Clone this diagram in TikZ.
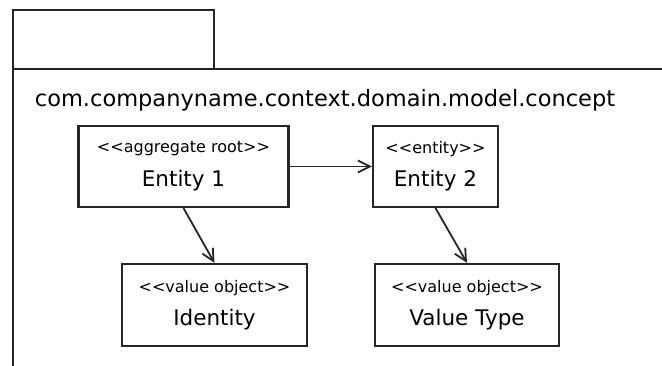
\documentclass[tikz,border=0pt]{standalone}
\usepackage{fontspec}
\setmainfont{DejaVu Sans}
\usetikzlibrary{arrows.meta}
\begin{document}
\begin{tikzpicture}[x=1pt,y=-1pt,
  pkgline/.style={line width=2.2pt, black!85},
  classbox/.style={draw=black!85, line width=2.2pt, rectangle, inner sep=0pt, align=center},
  stereo/.style={font=\fontsize{16}{16}\selectfont},
  cname/.style={font=\fontsize{21.5}{21.5}\selectfont},
  assoc/.style={line width=1.8pt, black!85, -{Straight Barb[length=12pt,width=12pt,line width=1.8pt]}}]
\useasboundingbox (0,0) rectangle (662,366);
\fill[white] (0,0) rectangle (662,366);
% package
\draw[pkgline] (13,10) rectangle (214,69);
\draw[pkgline] (13,366) -- (13,69) -- (662,69);
\node[font=\fontsize{22.5}{22.5}\selectfont] (pkg) at (325,100) {com.companyname.context.domain.model.concept};
% classes
\node[classbox, minimum width=210pt, minimum height=81pt] (e1) at (183.5,166.5) {};
\node[stereo] (e1s) at (183.5,149) {<{}<aggregate root>{}>};
\node[cname] (e1n) at (183.5,181) {Entity 1};
\node[classbox, minimum width=125pt, minimum height=81pt] (e2) at (435.5,166.5) {};
\node[stereo] (e2s) at (435.5,149) {<{}<entity>{}>};
\node[cname] (e2n) at (435.5,181) {Entity 2};
\node[classbox, minimum width=185pt, minimum height=82pt] (id) at (214.5,305) {};
\node[stereo] (ids) at (214.5,288) {<{}<value object>{}>};
\node[cname] (idn) at (214.5,320) {Identity};
\node[classbox, minimum width=184pt, minimum height=82pt] (vt) at (467,305) {};
\node[stereo] (vts) at (467,288) {<{}<value object>{}>};
\node[cname] (vtn) at (467,320) {Value Type};
% connectors
\draw[assoc] (e1.east) -- (e2.west);
\draw[assoc] (e1.south) -- (id.north);
\draw[assoc] (e2.south) -- (vt.north);
\end{tikzpicture}
\end{document}
